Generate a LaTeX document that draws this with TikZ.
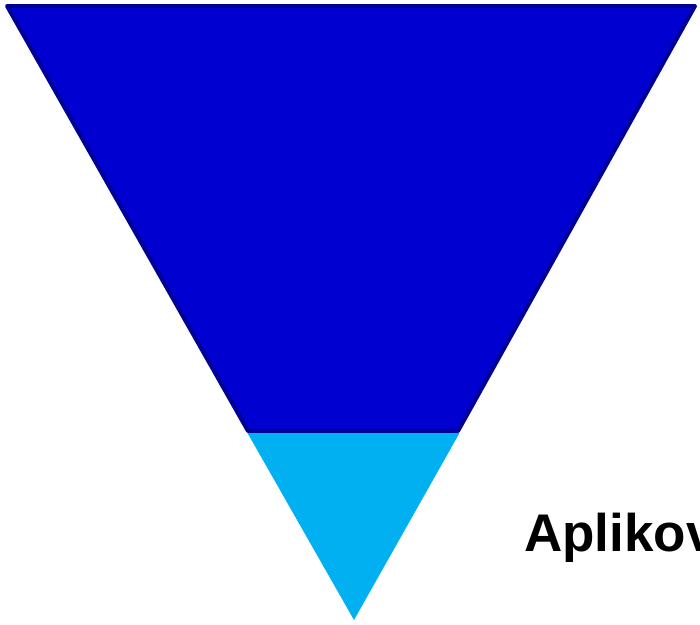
\documentclass[tikz,border=0pt]{standalone}
\usepackage{fontspec}
\setmainfont{Liberation Sans}
\definecolor{darkfill}{RGB}{0,0,208}
\definecolor{darkline}{RGB}{0,0,150}
\definecolor{lightfill}{RGB}{0,176,240}
\begin{document}
\begin{tikzpicture}[x=1pt,y=-1pt,
  upper/.style={fill=darkfill,draw=darkline,line width=4pt,line join=round},
  lower/.style={fill=lightfill,draw=none},
  label/.style={font=\fontsize{53}{60}\selectfont\bfseries,anchor=base west,inner sep=0pt}]
\useasboundingbox (0,0) rectangle (700,624);
\clip (0,0) rectangle (700,624);
\coordinate (tl) at (7,6);
\coordinate (tr) at (695,6);
\coordinate (bl) at (248,431);
\coordinate (br) at (458,431);
\coordinate (apex) at (354,620);
\path[upper] (tl) -- (tr) -- (br) -- (bl) -- cycle;
\path[lower] (247.5,433) -- (459.5,433) -- (apex) -- cycle;
\node[label] (t) at (524,551) {Aplikov};
\end{tikzpicture}
\end{document}
